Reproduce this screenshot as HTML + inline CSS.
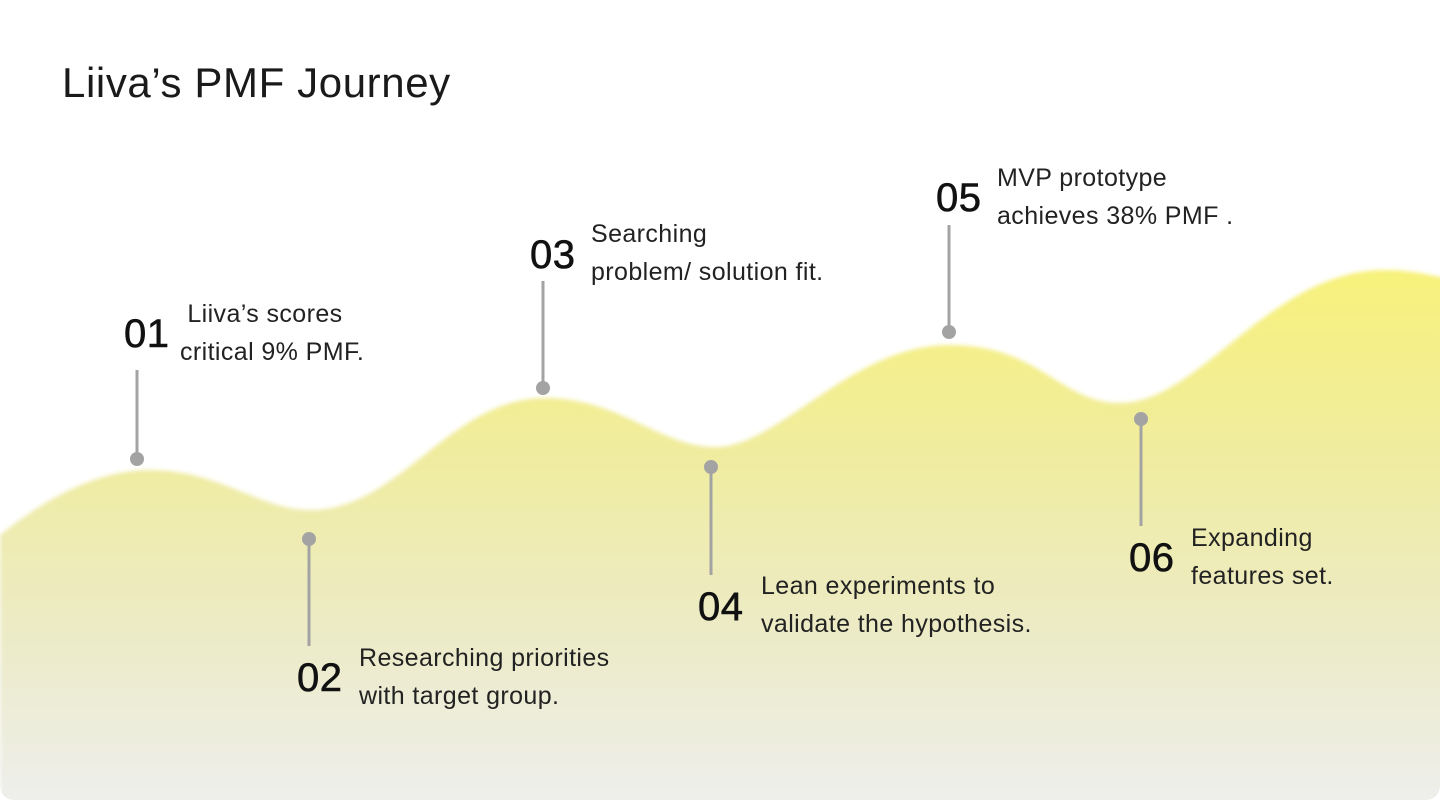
<!DOCTYPE html>
<html><head><meta charset="utf-8"><style>
html,body{margin:0;padding:0;background:#fff;}
body{width:1440px;height:800px;position:relative;overflow:hidden;font-family:"Liberation Sans",sans-serif;color:#1a1a1a;}
.card{position:absolute;left:0;top:0;width:1440px;height:800px;border-radius:0 0 14px 14px;overflow:hidden;}
.t{position:absolute;font-size:25px;letter-spacing:0.4px;line-height:38px;color:#222;white-space:nowrap;}
.n{position:absolute;font-size:40px;font-weight:normal;color:#111;letter-spacing:0.5px;-webkit-text-stroke:0.6px #111;}
h1{position:absolute;left:62px;top:59px;margin:0;font-size:42px;letter-spacing:0.6px;font-weight:normal;color:#1a1a1a;}
</style></head><body>
<div class="card">
<svg width="1440" height="800" style="position:absolute;left:0;top:0">
<defs>
<linearGradient id="g" x1="0" y1="260" x2="0" y2="800" gradientUnits="userSpaceOnUse">
<stop offset="0" stop-color="#f8f27a"/>
<stop offset="0.35" stop-color="#f0ec9e"/>
<stop offset="0.7" stop-color="#ecebc8"/>
<stop offset="1" stop-color="#eeeeec"/>
</linearGradient>
<filter id="b"><feGaussianBlur stdDeviation="2"/></filter>
</defs>
<path filter="url(#b)" fill="url(#g)" d="M0,535 C50,495 100,470 150,470 C220,470 260,510 310,510 C400,510 450,398 545,398 C620,398 660,447 715,447 C780,447 850,345 950,345 C1040,345 1060,403 1120,403 C1200,403 1270,270 1385,270 C1410,270 1430,275 1445,278 L1445,805 L0,805 Z"/>
<g stroke="#a3a3a3" stroke-width="3" fill="#a3a3a3">
<line x1="137" y1="370" x2="137" y2="458"/><circle cx="137" cy="459" r="7" stroke="none"/>
<line x1="309" y1="540" x2="309" y2="646"/><circle cx="309" cy="539" r="7" stroke="none"/>
<line x1="543" y1="281" x2="543" y2="387"/><circle cx="543" cy="388" r="7" stroke="none"/>
<line x1="711" y1="468" x2="711" y2="575"/><circle cx="711" cy="467" r="7" stroke="none"/>
<line x1="949" y1="225" x2="949" y2="331"/><circle cx="949" cy="332" r="7" stroke="none"/>
<line x1="1141" y1="420" x2="1141" y2="526"/><circle cx="1141" cy="419" r="7" stroke="none"/>
</g>
</svg>
<h1>Liiva’s PMF Journey</h1>
<div class="n" style="left:124px;top:312px">01</div>
<div class="t" style="left:180px;top:295px">&nbsp;Liiva’s scores<br>critical 9% PMF.</div>
<div class="n" style="left:297px;top:656px">02</div>
<div class="t" style="left:359px;top:639px">Researching priorities<br>with target group.</div>
<div class="n" style="left:530px;top:233px">03</div>
<div class="t" style="left:591px;top:215px">Searching<br>problem/ solution fit.</div>
<div class="n" style="left:698px;top:585px">04</div>
<div class="t" style="left:761px;top:567px">Lean experiments to<br>validate the hypothesis.</div>
<div class="n" style="left:936px;top:176px">05</div>
<div class="t" style="left:997px;top:159px">MVP prototype<br>achieves 38% PMF .</div>
<div class="n" style="left:1129px;top:536px">06</div>
<div class="t" style="left:1191px;top:519px">Expanding<br>features set.</div>
</div>
</body></html>
